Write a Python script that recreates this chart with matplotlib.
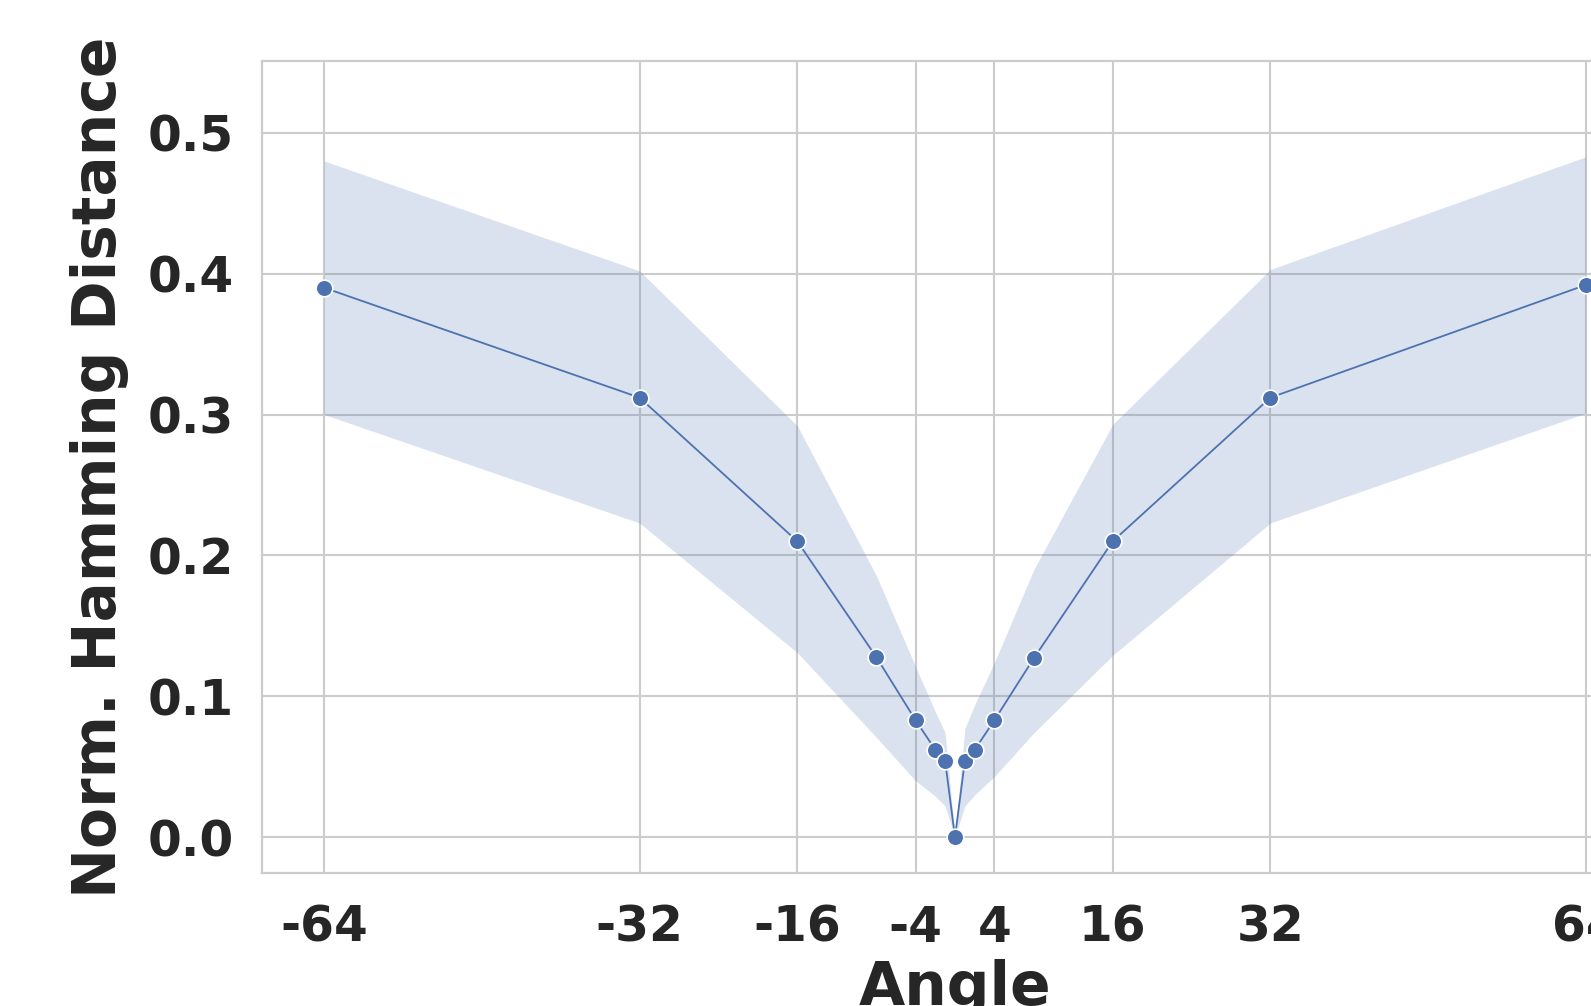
import matplotlib
matplotlib.use("Agg")
import matplotlib.pyplot as plt

# angle offsets and normalised hamming distance (mean and band)
angles = [-64, -32, -16, -8, -4, -2, -1, 0, 1, 2, 4, 8, 16, 32, 64]
mean_dist = [0.390, 0.312, 0.210, 0.128, 0.083, 0.062, 0.054, 0.000,
             0.054, 0.062, 0.083, 0.127, 0.210, 0.312, 0.392]
upper_dist = [0.480, 0.402, 0.292, 0.186, 0.121, 0.089, 0.074, 0.000,
              0.077, 0.094, 0.124, 0.190, 0.293, 0.403, 0.483]
lower_dist = [0.300, 0.223, 0.131, 0.071, 0.040, 0.029, 0.022, 0.000,
              0.022, 0.030, 0.043, 0.074, 0.129, 0.223, 0.301]

xtick_values = [-64, -32, -16, -4, 4, 16, 32, 64]
xtick_labels = ["-64", "-32", "-16", "-4", "4", "16", "32", "64"]
ytick_values = [0.0, 0.1, 0.2, 0.3, 0.4, 0.5]

BLUE = "#4C72B0"
GRID = "#cccccc"
TEXT = "#262626"

plt.rcParams["font.family"] = "DejaVu Sans"
plt.rcParams["font.weight"] = "bold"
plt.rcParams["axes.unicode_minus"] = False

fig = plt.figure(figsize=(15.91, 10.06), dpi=100)
ax = fig.add_axes([0.1647, 0.1322, 0.8711, 0.8072])

ax.set_axisbelow(True)
ax.grid(True, color=GRID, linewidth=1.5)
for spine in ax.spines.values():
    spine.set_color(GRID)
    spine.set_linewidth(1.6)

ax.fill_between(angles, lower_dist, upper_dist, color=BLUE, alpha=0.2, linewidth=0)
ax.plot(angles, mean_dist, color=BLUE, linewidth=1.3, marker="o", markersize=12,
        markeredgecolor="white", markeredgewidth=1.2)

ax.set_xlim(-70.3, 70.3)
ax.set_ylim(-0.0255, 0.551)
ax.set_xticks(xtick_values)
ax.set_xticklabels(xtick_labels)
ax.set_yticks(ytick_values)
ax.set_yticklabels([f"{v:.1f}" for v in ytick_values])

ax.tick_params(axis="both", length=0, labelsize=35, labelcolor=TEXT)
ax.tick_params(axis="x", pad=22)
ax.tick_params(axis="y", pad=20.5)
for label in ax.get_xticklabels() + ax.get_yticklabels():
    label.set_fontweight("bold")

ax.set_xlabel("Angle", fontsize=43, fontweight="bold", color=TEXT, labelpad=5)
ax.set_ylabel("Norm. Hamming Distance", fontsize=43, fontweight="bold", color=TEXT,
              labelpad=13)

fig.savefig("out.png", dpi=100)
plt.close(fig)
